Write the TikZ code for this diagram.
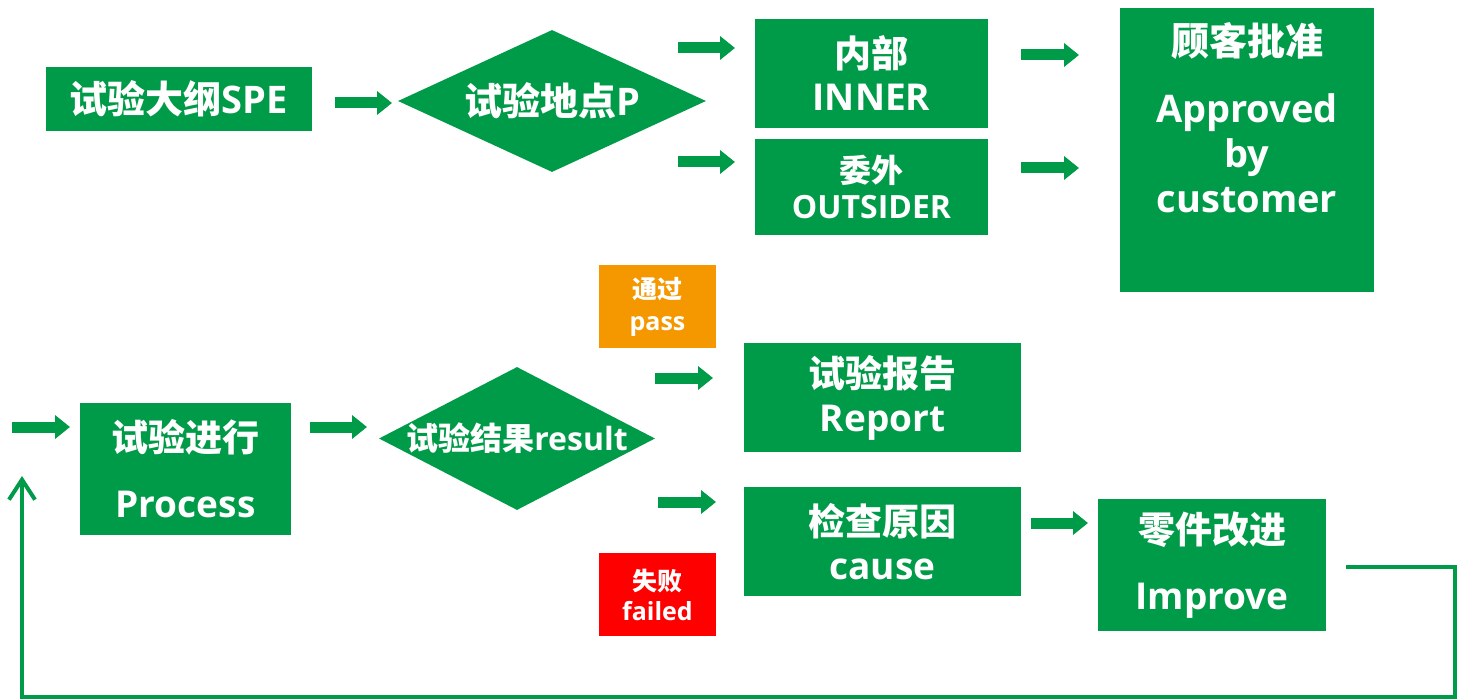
\documentclass[tikz,border=0pt]{standalone}
\usepackage{fontspec}
\setmainfont{Open Sans}
\newfontfamily\cjk{Noto Sans CJK SC}
\usetikzlibrary{arrows.meta,shapes.geometric}
\definecolor{gr}{RGB}{0,155,72}
\definecolor{og}{RGB}{245,152,0}
\definecolor{rd}{RGB}{255,0,0}
\newcommand\zh[1]{{\cjk\bfseries #1}}
\newcommand\fs[2]{\fontsize{#1}{#2}\selectfont\bfseries}
\begin{document}
\begin{tikzpicture}[x=1pt,y=-1pt,
  box/.style={fill=gr, text=white, inner sep=0pt, align=center},
  blk/.style={draw=gr, line width=11pt, -{Triangle[length=15pt,width=23pt]}},
  fb/.style={draw=gr, line width=4pt, -{Straight Barb[length=20pt,width=26pt]}}]
\fill[white] (0,0) rectangle (1458,700);
\useasboundingbox (0,0) rectangle (1458,700);

\node[box, minimum width=266pt, minimum height=64pt, font=\fs{38}{46}] (spe) at (179,99) {\zh{试验大纲}SPE};
\node[box, diamond, aspect=2.17, minimum width=308pt, minimum height=142pt, font=\fs{38}{46}] (loc) at (552,101) {\makebox[0pt]{\zh{试验地点}P}};
\node[box, minimum width=233pt, minimum height=109pt, font=\fs{37}{43}] (inner) at (871.5,73.5) {\zh{内部}\\INNER};
\node[box, minimum width=233pt, minimum height=96pt, font=\fs{32}{36}] (outs) at (871.5,187) {\zh{委外}\\OUTSIDER};
\node[box, minimum width=254pt, minimum height=284pt] (cust) at (1247,150) {};
\node[text=white, align=center, inner sep=0pt, font=\fs{38}{45}] (custtext) at (1247,118) {\zh{顾客批准}\\[22pt]Approved\\by\\customer};
\node[box, fill=og, minimum width=117pt, minimum height=83pt, font=\fs{25}{32}] (pass) at (657.5,306.5) {\zh{通过}\\pass};
\node[box, minimum width=277pt, minimum height=109pt, font=\fs{37}{44}] (report) at (882.5,397.5) {\zh{试验报告}\\Report};
\node[box, minimum width=211pt, minimum height=132pt, font=\fs{37}{66}] (proc) at (185.5,469) {\zh{试验进行}\\Process};
\node[box, diamond, aspect=1.93, minimum width=276pt, minimum height=143pt, font=\fs{32}{40}] (res) at (517,438.5) {\makebox[0pt]{\zh{试验结果}result}};
\node[box, minimum width=277pt, minimum height=109pt, font=\fs{37}{44}] (cause) at (882.5,541.5) {\zh{检查原因}\\cause};
\node[box, minimum width=228pt, minimum height=132pt, font=\fs{37}{66}] (imp) at (1212,565) {\zh{零件改进}\\Improve};
\node[box, fill=rd, minimum width=117pt, minimum height=83pt, font=\fs{25}{30}] (fail) at (657.5,594.5) {\zh{失败}\\failed};

\coordinate (a1s) at (335,103);  \coordinate (a1e) at (392,103);
\coordinate (a2s) at (678,48);   \coordinate (a2e) at (735,48);
\coordinate (a3s) at (678,162);  \coordinate (a3e) at (735,162);
\coordinate (a4s) at (1021,55);  \coordinate (a4e) at (1079,55);
\coordinate (a5s) at (1021,168); \coordinate (a5e) at (1079,168);
\coordinate (a6s) at (655,378);  \coordinate (a6e) at (713,378);
\coordinate (a7s) at (12,427);   \coordinate (a7e) at (70,427);
\coordinate (a8s) at (310,427);  \coordinate (a8e) at (367,427);
\coordinate (a9s) at (658,502);  \coordinate (a9e) at (716,502);
\coordinate (a10s) at (1031,523); \coordinate (a10e) at (1088,523);
\foreach \i in {1,...,10} \draw[blk] (a\i s) -- (a\i e);

\coordinate (fb0) at (1346,567);
\coordinate (fb1) at (1455,697);
\coordinate (fb2) at (22,476);
\draw[fb] (fb0) -| (fb1) -| (fb2);
\end{tikzpicture}
\end{document}
